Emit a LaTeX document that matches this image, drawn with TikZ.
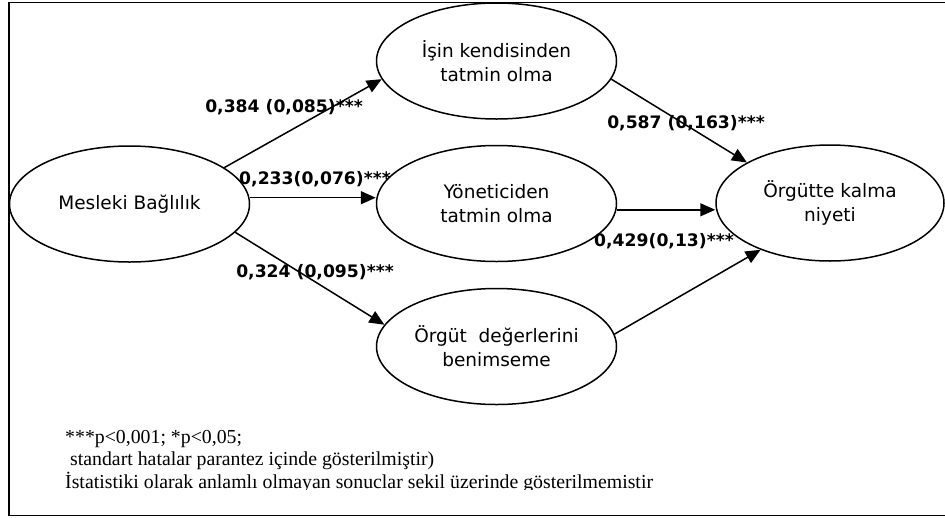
\documentclass[tikz,border=0pt]{standalone}
\usepackage{fontspec}
\setmainfont{DejaVu Sans}
\newfontfamily\notefont{Liberation Serif}
\usetikzlibrary{shapes.geometric,arrows.meta}

\begin{document}
\begin{tikzpicture}[x=1pt,y=-1pt,
  construct/.style={ellipse, draw, line width=1.5pt, minimum width=240pt,
    minimum height=116pt, inner sep=0pt, align=center,
    font=\fontsize{18.5}{24}\selectfont},
  link/.style={line width=1.5pt, -{Triangle[length=15pt,width=13pt]}},
  coef/.style={font=\bfseries\fontsize{17.2}{20}\selectfont, inner sep=0pt},
  note/.style={font=\notefont\fontsize{19.8}{22}\selectfont, inner sep=0pt,
    anchor=base west}
]
\useasboundingbox (0,0) rectangle (945,517);

% outer frame (open on the right)
\draw[line width=1.8pt] (950,2.5) -- (9,2.5) -- (9,515.5) -- (950,515.5);

% constructs
\node[construct] (mb) at (129.5,204) {Mesleki Bağlılık};
\node[construct] (ik) at (496.5,61) {İşin kendisinden\\tatmin olma};
\node[construct] (yt) at (496.5,203.5) {Yöneticiden\\tatmin olma};
\node[construct] (od) at (496.5,346.5) {Örgüt\ \ değerlerini\\benimseme};
\node[construct, minimum width=228pt] (ok) at (830,203) {Örgütte kalma\\niyeti};

% path coefficients
\node[coef] (c1) at (284,107) {0,384 (0,085)***};
\node[coef] (c2) at (315,179) {0,233(0,076)***};
\node[coef] (c3) at (315,272) {0,324 (0,095)***};
\node[coef] (c4) at (686,123) {0,587 (0,163)***};
\node[coef] (c5) at (664,241) {0,429(0,13)***};

% paths
\draw[link] (mb.21) -- (ik.189.5);
\draw[link] (mb.3) -- (mb.3 -| yt.west);
\draw[link] (mb.-15) -- (od.169);
\draw[link] (ik.-9.5) -- (ok.154);
\draw[link] (yt.-3) -- (yt.-3 -| ok.west);
\draw[link] (od.6) -- (ok.214.5);

% notes
\node[note] (n1) at (65,443) {***p<0,001; *p<0,05;};
\node[note] (n2) at (70,465) {standart hatalar parantez içinde gösterilmiştir)};
\begin{scope}
  \clip (0,0) rectangle (945,489.5);
  \node[note] (n3) at (65,488) {İstatistiki olarak anlamlı olmayan sonuclar sekil üzerinde gösterilmemistir};
\end{scope}
\end{tikzpicture}
\end{document}
